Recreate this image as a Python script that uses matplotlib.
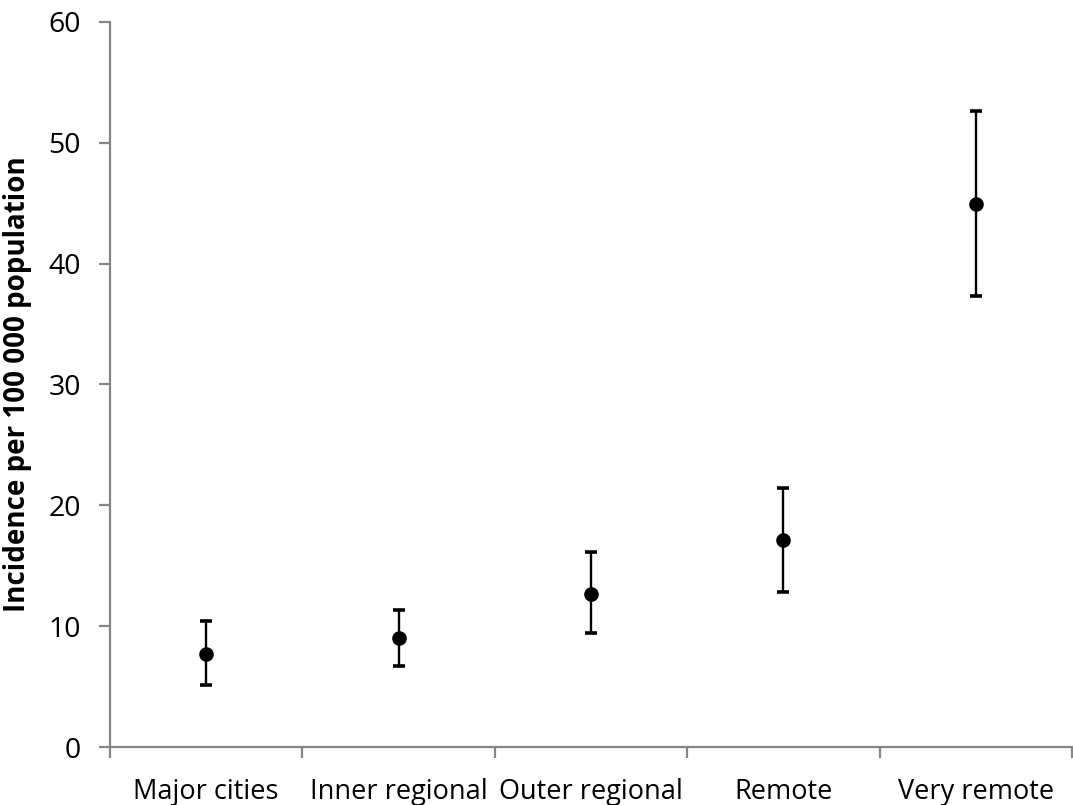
import matplotlib
matplotlib.use("Agg")
import matplotlib.pyplot as plt
import numpy as np

categories = ["Major cities", "Inner regional", "Outer regional", "Remote", "Very remote"]
incidence = [7.7, 9.0, 12.7, 17.1, 44.9]
ci_lower = [5.1, 6.7, 9.4, 12.8, 37.3]
ci_upper = [10.4, 11.3, 16.1, 21.4, 52.6]
y_ticks = [0, 10, 20, 30, 40, 50, 60]

plt.rcParams['font.family'] = ['Open Sans', 'DejaVu Sans']

fig = plt.figure(figsize=(10.73, 8.05), dpi=100)
ax = fig.add_axes([110/1073, 58/805, (1072-110)/1073, (747-22)/805])

x = np.arange(len(categories))
inc = np.array(incidence)
yerr = np.vstack([inc - np.array(ci_lower), np.array(ci_upper) - inc])
ax.errorbar(x, inc, yerr=yerr, fmt='o', color='black', ecolor='black',
            markersize=9.5, elinewidth=1.7, capsize=4, capthick=2.6)

ax.set_xlim(-0.5, len(categories) - 0.5)
ax.set_ylim(0, 60)
ax.set_yticks(y_ticks)
ax.set_yticklabels([str(t) for t in y_ticks])
ax.set_xticks(x)
ax.set_xticklabels(categories)
ax.set_xticks(np.arange(len(categories) + 1) - 0.5, minor=True)

axis_col = '#868686'
for s in ['top', 'right']:
    ax.spines[s].set_visible(False)
for s in ['left', 'bottom']:
    ax.spines[s].set_color(axis_col)
    ax.spines[s].set_linewidth(1.6)

ax.tick_params(axis='x', which='major', length=0, labelsize=19.5, pad=22)
ax.tick_params(axis='x', which='minor', length=8, width=1.6, color=axis_col)
ax.tick_params(axis='y', which='major', length=8, width=1.6, color=axis_col, labelsize=20.5, pad=13)

ax.set_ylabel("Incidence per 100 000 population", fontsize=20, fontweight='bold', labelpad=12)

fig.savefig("out.png", dpi=100)
